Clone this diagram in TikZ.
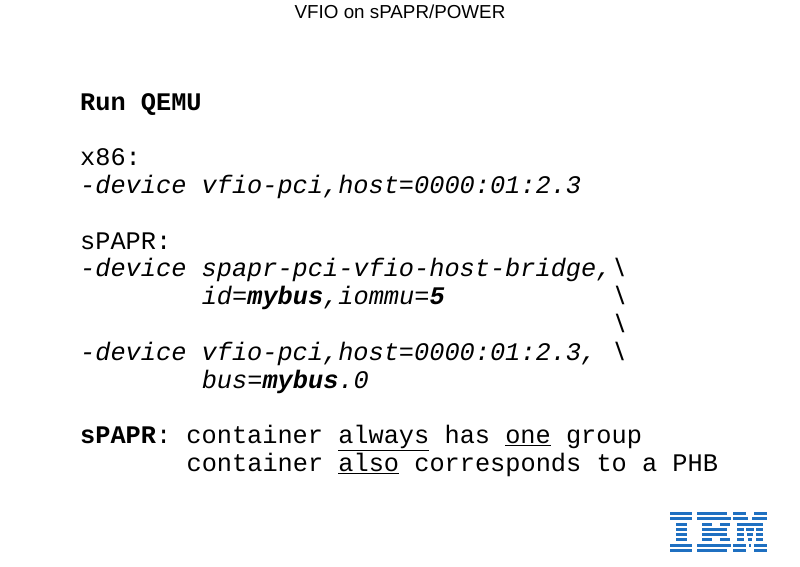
\documentclass[tikz,border=0pt]{standalone}
\usepackage{fontspec}
\setmainfont{Liberation Sans}
\setmonofont{Liberation Mono}
\usetikzlibrary{positioning}
\definecolor{ibmblue}{RGB}{31,112,193}
\tikzset{
  code/.style={anchor=base west, inner sep=0pt,
    font=\ttfamily\fontsize{25.3}{27.8}\selectfont},
  title/.style={anchor=base, inner sep=0pt,
    font=\fontsize{18.8}{22}\selectfont},
  bar/.style={fill=ibmblue},
}
\begin{document}
\begin{tikzpicture}[x=1pt,y=-1pt]
      \useasboundingbox (0,0) rectangle (800,566);
      \node[title] (head) at (400,18.5) {VFIO on sPAPR/POWER};
      % code lines: column c at 80+c*15.2, line n at 110+n*27.8
      \node[code] (run) at (80,110) {\textbf{Run QEMU}};
      \node[code] (x86) at (80,{110+2*27.8}) {x86:};
      \node[code] (dev1) at (80,{110+3*27.8}) {\itshape -device vfio-pci,host=0000:01:2.3};
      \node[code] (spapr) at (80,{110+5*27.8}) {sPAPR:};
      \node[code] (dev2) at (80,{110+6*27.8}) {\itshape -device spapr-pci-vfio-host-bridge,\textbackslash};
      \node[code] (id) at ({80+8*15.2},{110+7*27.8}) {\itshape id=\textbf{mybus},iommu=\textbf{5}};
      \node[code] (bs1) at ({80+35*15.2},{110+7*27.8}) {\itshape\textbackslash};
      \node[code] (bs2) at ({80+35*15.2},{110+8*27.8}) {\itshape\textbackslash};
      \node[code] (dev3) at (80,{110+9*27.8}) {\itshape -device vfio-pci,host=0000:01:2.3, \textbackslash};
      \node[code] (bus) at ({80+8*15.2},{110+10*27.8}) {\itshape bus=\textbf{mybus}.0};
      \node[code] (note1) at (80,{110+12*27.8}) {\textbf{sPAPR}: container \underline{always} has \underline{one} group};
      \node[code] (note2) at ({80+7*15.2},{110+13*27.8}) {container \underline{also} corresponds to a PHB};
      % logo
      \foreach \r/\segs in {
          1/{670/692,697/727,733/746,754/767},
          2/{670/692,697/731,733/748,752/767},
          3/{675.5/686.5,702/712,720/730,737/763},
          4/{675.5/686.5,702/727,737/744,746/754,756/763},
          5/{675.5/686.5,702/727,737/744,747/753,756/763},
          6/{675.5/686.5,702/712,720/730,737/744,748/752,756/763},
          7/{670/692,697/731,733/746,749/751,754/767},
          8/{670/692,697/727,733/746,754/767}}
        {\foreach \a/\b in \segs
          {\fill[bar] (\a,{512+(\r-1)*5.25}) rectangle (\b,{512+(\r-1)*5.25+3.1});}}
    \end{tikzpicture}
\end{document}
